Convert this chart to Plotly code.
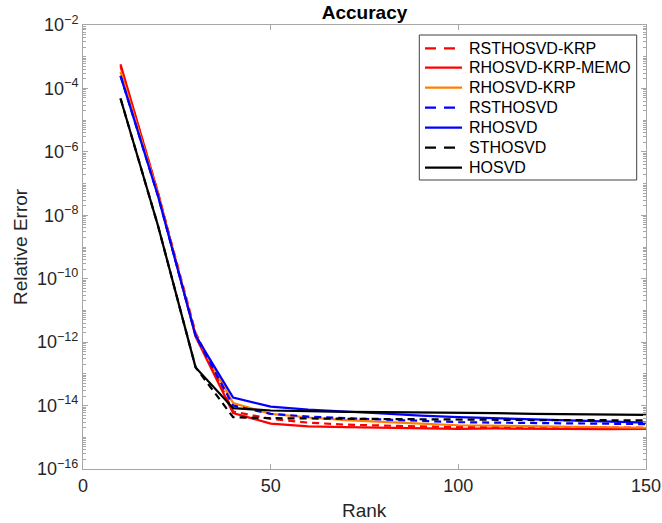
import plotly.graph_objects as go

rank = [10, 20, 30, 40, 50, 60, 70, 80, 90, 100, 110, 120, 130, 140, 150]

rsthosvd_krp = [5.0e-4, 5.0e-8, 2.0e-12, 6.5e-15, 3.8e-15, 2.9e-15, 2.5e-15, 2.3e-15, 2.2e-15, 2.1e-15, 2.1e-15, 2.05e-15, 2.0e-15, 2.0e-15, 2.0e-15]
rhosvd_krp_memo = [5.8e-4, 5.0e-8, 1.5e-12, 5.8e-15, 2.7e-15, 2.2e-15, 2.1e-15, 2.0e-15, 1.9e-15, 1.85e-15, 1.9e-15, 1.85e-15, 1.9e-15, 1.8e-15, 1.85e-15]
rhosvd_krp = [3.4e-4, 4.5e-8, 1.7e-12, 1.2e-14, 5.5e-15, 4.2e-15, 3.5e-15, 3.0e-15, 2.7e-15, 2.4e-15, 2.3e-15, 2.2e-15, 2.1e-15, 2.05e-15, 2.0e-15]
rsthosvd = [2.5e-4, 4.0e-8, 1.6e-12, 1.0e-14, 5.5e-15, 4.5e-15, 4.0e-15, 3.6e-15, 3.3e-15, 3.0e-15, 2.9e-15, 2.8e-15, 2.8e-15, 2.7e-15, 2.6e-15]
rhosvd = [2.5e-4, 4.0e-8, 1.6e-12, 1.8e-14, 9.3e-15, 7.5e-15, 6.5e-15, 5.5e-15, 4.8e-15, 4.3e-15, 4.0e-15, 3.6e-15, 3.3e-15, 3.1e-15, 2.9e-15]
sthosvd = [4.8e-5, 4.6e-9, 1.6e-13, 4.3e-15, 4.0e-15, 3.9e-15, 3.8e-15, 3.7e-15, 3.6e-15, 3.6e-15, 3.5e-15, 3.5e-15, 3.5e-15, 3.4e-15, 3.4e-15]
hosvd = [4.8e-5, 4.6e-9, 1.6e-13, 8.3e-15, 7.0e-15, 6.5e-15, 6.3e-15, 6.2e-15, 6.1e-15, 6.0e-15, 5.8e-15, 5.5e-15, 5.3e-15, 5.2e-15, 5.1e-15]

x_ticks = [0, 50, 100, 150]
y_exponents = [-16, -14, -12, -10, -8, -6, -4, -2]
y_tick_text = ["10<sup>\u221216</sup>", "10<sup>\u221214</sup>", "10<sup>\u221212</sup>",
               "10<sup>\u221210</sup>", "10<sup>\u22128</sup>", "10<sup>\u22126</sup>",
               "10<sup>\u22124</sup>", "10<sup>\u22122</sup>"]

series = [
    ("RSTHOSVD-KRP", rsthosvd_krp, "#ff0000", "dash"),
    ("RHOSVD-KRP-MEMO", rhosvd_krp_memo, "#ff0000", "solid"),
    ("RHOSVD-KRP", rhosvd_krp, "#ff8000", "solid"),
    ("RSTHOSVD", rsthosvd, "#0000ff", "dash"),
    ("RHOSVD", rhosvd, "#0000ff", "solid"),
    ("STHOSVD", sthosvd, "#000000", "dash"),
    ("HOSVD", hosvd, "#000000", "solid"),
]

FONT = "Liberation Sans, Arial, Helvetica, sans-serif"
W, H = 662, 523
L, R, T, B = 83, 16, 25, 54
PW, PH = W - L - R, H - T - B


def px(xp):
    return (xp - L) / PW


def py(yp):
    return 1 - (yp - T) / PH


fig = go.Figure()
for name, vals, color, dash in series:
    fig.add_trace(go.Scatter(
        x=rank, y=vals, mode="lines", name=name, showlegend=False,
        line=dict(color=color, width=2.2, dash=("7px,5px" if dash == "dash" else "solid")),
    ))

axis_common = dict(
    showline=True, mirror="ticks", linecolor="#a6a6a6", linewidth=1,
    ticks="inside", ticklen=5, tickcolor="#a6a6a6",
    showgrid=False, zeroline=False, automargin=False,
    tickfont=dict(family=FONT, size=18, color="#262626"),
)

y_major_vals = [10.0 ** e for e in y_exponents]
minor_vals = []
for d in range(-16, -2):
    for k in range(1, 10):
        if k == 1 and d % 2 == 0:
            continue
        minor_vals.append(k * 10.0 ** d)

shapes = []
annotations = []

# legend box
shapes.append(dict(type="rect", xref="paper", yref="paper",
                   x0=px(419.3), x1=px(636.7), y0=py(35), y1=py(180),
                   line=dict(color="#404040", width=1), fillcolor="white", layer="above"))
entry_y = [48.3, 67.7, 87.7, 107.7, 127.7, 147.7, 167.7]
for (name, vals, color, dash), yp in zip(series, entry_y):
    if dash == "dash":
        shapes.append(dict(type="line", xref="paper", yref="paper",
                           x0=px(425), x1=px(455), y0=py(yp), y1=py(yp),
                           line=dict(color=color, width=2.2, dash="11px,8px"), layer="above"))
    else:
        shapes.append(dict(type="line", xref="paper", yref="paper",
                           x0=px(425), x1=px(462), y0=py(yp), y1=py(yp),
                           line=dict(color=color, width=2.2), layer="above"))
    annotations.append(dict(text=name, xref="paper", yref="paper",
                            x=px(467), y=py(yp), xanchor="left", yanchor="middle",
                            showarrow=False, font=dict(family=FONT, size=16, color="#000000")))

# axis titles
annotations.append(dict(text="Rank", xref="paper", yref="paper", x=0.5, y=py(510),
                        xanchor="center", yanchor="middle", showarrow=False,
                        font=dict(family=FONT, size=19, color="#262626")))
annotations.append(dict(text="Relative Error", xref="paper", yref="paper", x=px(20), y=0.5,
                        xanchor="center", yanchor="middle", showarrow=False, textangle=-90,
                        font=dict(family=FONT, size=19, color="#262626")))

fig.update_layout(
    width=W, height=H,
    margin=dict(l=L, r=R, t=T, b=B),
    paper_bgcolor="white", plot_bgcolor="white",
    title=dict(text="<b>Accuracy</b>", x=(L + W - R) / 2 / W, xanchor="center",
               y=1 - 12.5 / H, yanchor="middle",
               font=dict(family=FONT, size=19, color="#000000")),
    xaxis=dict(range=[0, 150], tickmode="array", tickvals=x_ticks, **axis_common),
    yaxis=dict(type="log", range=[-16, -2], tickmode="array",
               tickvals=y_major_vals, ticktext=y_tick_text,
               minor=dict(tickmode="array", tickvals=minor_vals, ticks="inside", ticklen=3,
                          tickcolor="#a6a6a6", showgrid=False),
               **axis_common),
    shapes=shapes,
    annotations=annotations,
    showlegend=False,
)

fig.write_html("out.html")
